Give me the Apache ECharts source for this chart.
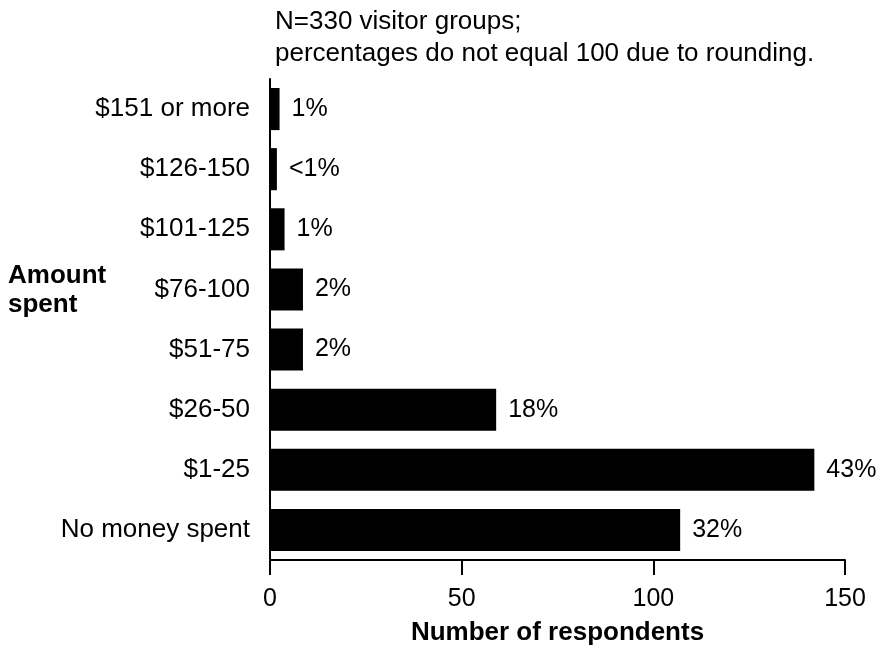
<!DOCTYPE html>
<html>
<head>
<meta charset="utf-8">
<title>Amount spent</title>
<script src="https://cdn.jsdelivr.net/npm/echarts@6/dist/echarts.min.js"></script>
<style>
  html, body { margin: 0; padding: 0; background: #fff; overflow: hidden; }
  #chart { width: 885px; height: 646px; }
</style>
</head>
<body>
<div id="chart"></div>
<script>
// Spending categories, listed bottom to top as the category axis draws them
const categories = ["No money spent", "$1-25", "$26-50", "$51-75", "$76-100", "$101-125", "$126-150", "$151 or more"];
// Number of respondents in each category
const respondents = [107, 142, 59, 8.6, 8.6, 3.8, 1.8, 2.5];
// Share of visitor groups printed beside each bar
const shareLabels = ["32%", "43%", "18%", "2%", "2%", "1%", "<1%", "1%"];
// Horizontal axis ticks
const xTicks = [0, 50, 100, 150];

const FONT = '"Liberation Sans", Arial, Helvetica, sans-serif';

const chart = echarts.init(document.getElementById('chart'), null, {
  renderer: 'canvas', width: 885, height: 646
});

chart.setOption({
  animation: false,
  backgroundColor: '#ffffff',
  title: {
    text: 'N=330 visitor groups;\npercentages do not equal 100 due to rounding.',
    left: 270,
    top: 1,
    textStyle: { fontFamily: FONT, fontSize: 26, fontWeight: 'normal', color: '#000', lineHeight: 32 }
  },
  graphic: [{
    type: 'text',
    left: 8,
    top: 261,
    style: {
      text: 'Amount\nspent',
      font: 'bold 26px ' + FONT,
      fill: '#000',
      lineHeight: 29
    }
  }],
  grid: { left: 270, right: 40, top: 79, bottom: 86, containLabel: false, outerBoundsMode: 'none' },
  xAxis: {
    type: 'value',
    min: xTicks[0],
    max: xTicks[xTicks.length - 1],
    interval: xTicks[1] - xTicks[0],
    name: 'Number of respondents',
    nameLocation: 'middle',
    nameGap: 60,
    nameTextStyle: { fontFamily: FONT, fontSize: 26, fontWeight: 'bold', color: '#000' },
    axisLine: { show: true, lineStyle: { color: '#000', width: 2 } },
    axisTick: { show: true, length: 15, lineStyle: { color: '#000', width: 2 } },
    axisLabel: { fontFamily: FONT, fontSize: 25, color: '#000', margin: 27 },
    splitLine: { show: false }
  },
  yAxis: {
    type: 'category',
    data: categories,
    axisLine: { show: true, lineStyle: { color: '#000', width: 2 } },
    axisTick: { show: false },
    axisLabel: { fontFamily: FONT, fontSize: 26, color: '#000', margin: 20 }
  },
  series: [{
    type: 'bar',
    data: respondents,
    barWidth: '70%',
    itemStyle: { color: '#000' },
    label: {
      show: true,
      position: 'right',
      distance: 12,
      fontFamily: FONT,
      fontSize: 25,
      color: '#000',
      formatter: (p) => shareLabels[p.dataIndex]
    }
  }]
});
</script>
</body>
</html>
